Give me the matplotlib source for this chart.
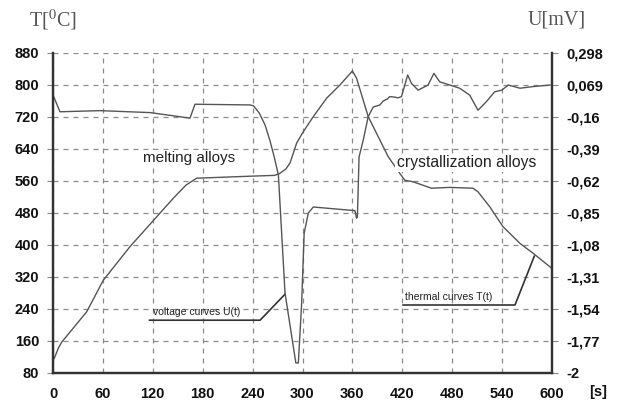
import numpy as np
import matplotlib.pyplot as plt

plt.rcParams['font.family'] = ['Liberation Sans', 'DejaVu Sans']
plt.rcParams['mathtext.fontset'] = 'stix'

# thermal curve T(t), deg C (left axis)
t_therm = [1.6, 6.4, 10.4, 40.5, 60.5, 92.6, 144.7, 160, 172.7, 237, 266, 272, 280, 285,
           289, 293, 300, 313, 329, 345, 360, 365, 379, 403, 417, 423, 433, 455, 477, 505,
           511, 525, 541, 561.5, 577.5, 599.6]
T_therm = [117, 142, 157, 233, 312, 396, 517, 550, 567, 572, 574, 578, 590, 605,
           630, 655, 680, 721, 767, 800, 835, 817, 721, 621, 579, 562, 558, 542, 544, 542,
           533, 496, 446, 404, 379, 342]

# voltage curve U(t), mV (right axis)
t_volt = [0.4, 8.4, 56.5, 117, 164.7, 170.7, 237, 241, 248, 255, 261, 266, 271, 279, 292,
          295, 299, 302, 307, 313, 363, 365, 366, 368, 373, 379, 385, 390, 393, 397, 402,
          405, 410, 415, 419, 426.5, 431, 439, 451, 458, 465, 477, 489, 501, 511, 521, 531,
          539.5, 547.5, 561.5, 577.5, 597.6]
U_volt = [-0.009, -0.124, -0.116, -0.130, -0.170, -0.070, -0.075, -0.081, -0.133, -0.219,
          -0.334, -0.449, -0.578, -1.426, -1.928, -1.928, -1.497, -0.995, -0.851, -0.808,
          -0.834, -0.888, -0.880, -0.449, -0.328, -0.159, -0.090, -0.081, -0.075, -0.047,
          -0.032, -0.015, -0.018, -0.024, -0.015, 0.140, 0.080, 0.031, 0.068, 0.152, 0.091,
          0.068, 0.045, -0.004, -0.113, -0.052, 0.019, 0.031, 0.068, 0.045, 0.057, 0.068]

x_ticks = [0, 60, 120, 180, 240, 300, 360, 420, 480, 540, 600]
T_ticks = [80, 160, 240, 320, 400, 480, 560, 640, 720, 800, 880]
U_ticks = [-2, -1.77, -1.54, -1.31, -1.08, -0.85, -0.62, -0.39, -0.16, 0.069, 0.298]
U_labels = ['-2', '-1,77', '-1,54', '-1,31', '-1,08', '-0,85', '-0,62', '-0,39', '-0,16',
            '0,069', '0,298']

fig = plt.figure(figsize=(6.21, 4.03), dpi=100)
ax = fig.add_axes([53 / 621, 30 / 403, 499 / 621, 320 / 403])
ax2 = ax.twinx()

curve_col = '#555555'
ax.plot(t_therm, T_therm, color=curve_col, lw=1.0, zorder=2)
ax2.plot(t_volt, U_volt, color=curve_col, lw=1.0, zorder=2)

ax.set_xlim(0, 600)
ax.set_ylim(80, 880)
ax2.set_ylim(-2, 0.298)

tick_font = dict(fontsize=10.5, fontweight='bold', color='#111111')
ax.set_xticks(x_ticks)
ax.set_xticklabels([str(v) for v in x_ticks], **tick_font)
ax.set_yticks(T_ticks)
ax.set_yticklabels([str(v) for v in T_ticks], **tick_font)
ax2.set_yticks(U_ticks)
ax2.set_yticklabels(U_labels, **tick_font)

ax.tick_params(axis='y', length=4, color='#888888', pad=6)
ax.tick_params(axis='x', length=0, pad=10)
ax2.tick_params(axis='y', length=4, color='#888888', pad=6)

ax.grid(True, ls=(0, (4, 4)), color='#8a8a8a', lw=0.9)
for a in (ax, ax2):
    a.spines['top'].set_visible(False)
    for s in ('left', 'right', 'bottom'):
        a.spines[s].set_color('#333333')
        a.spines[s].set_linewidth(1.6)

# annotations
ax.text(164, 617, 'melting alloys', fontsize=11, color='#222222',
        ha='center', va='center', bbox=dict(fc='white', ec='none', pad=1), zorder=3)
ax.text(497, 605, 'crystallization alloys', fontsize=11.3,
        color='#222222', ha='center', va='center',
        bbox=dict(fc='white', ec='none', pad=1), zorder=3)

ax.plot([116, 249, 279], [212, 212, 277], color='#333333', lw=1.2, zorder=3)
ax.text(120, 232, 'voltage curves U(t)', fontsize=7.5, color='#222222', va='center')
ax.plot([421, 555.5, 578.7], [250, 250, 372], color='#333333', lw=1.2, zorder=3)
ax.text(423, 269, 'thermal curves T(t)', fontsize=7.5, color='#222222', va='center')

fig.text(29 / 621, 1 - 20 / 403, 'T[$^{0}$C]', family=['Liberation Serif', 'DejaVu Serif'],
         fontsize=14.5, color='#555555', va='center', ha='left')
fig.text(528 / 621, 1 - 20 / 403, 'U[mV]', family=['Liberation Serif', 'DejaVu Serif'],
         fontsize=14.5, color='#555555', va='center', ha='left')
fig.text(598 / 621, 1 - 392 / 403, '[s]', fontsize=10.5, fontweight='bold', color='#111111',
         va='center', ha='center')

fig.savefig('out.png', dpi=100)
